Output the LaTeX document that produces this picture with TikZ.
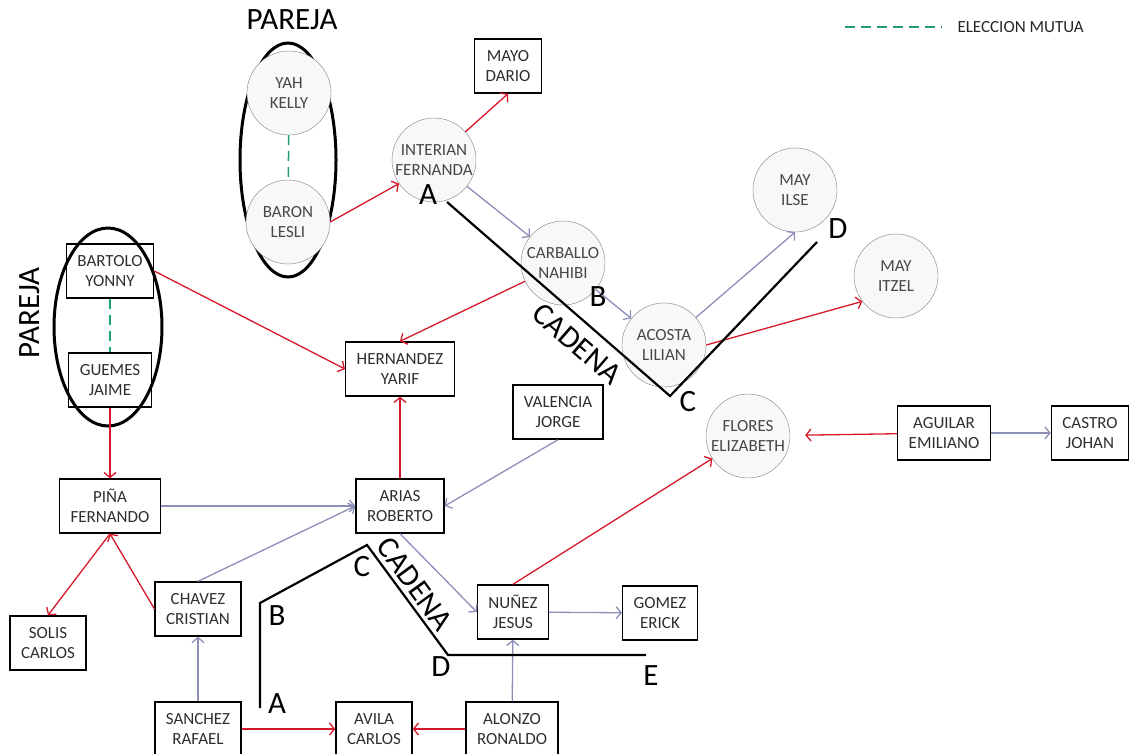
\documentclass[tikz,border=0pt]{standalone}
\usepackage{fontspec}
\setmainfont{Carlito}
\usepackage{tikz}
\usetikzlibrary{arrows,arrows.meta,shapes}
\definecolor{rojo}{HTML}{D7182A}
\definecolor{azul}{HTML}{8C8FB8}
\definecolor{verde}{HTML}{1E9C76}
\definecolor{gris}{HTML}{7F7F7F}
\definecolor{fondo}{HTML}{F8F8F8}
\tikzstyle{alumno}=[circle,draw=gris,fill=fondo,minimum size=84pt,inner sep=0pt,align=center,text=black!72,font=\fontsize{17}{20.5}\selectfont]
\tikzstyle{caja}=[rectangle,draw,line width=1.4pt,minimum height=54pt,inner xsep=11pt,align=center,text=black!82,font=\fontsize{17}{20.5}\selectfont]
\tikzstyle{pareja}=[ellipse,draw,line width=3pt,inner sep=0pt]
\tikzstyle{rechazo} = [draw=rojo,line width=1.3pt,-{Straight Barb[length=5pt,width=12pt]}]
\tikzstyle{eleccion} = [draw=azul,line width=1.3pt,-{Straight Barb[length=5pt,width=12pt]}]
\tikzstyle{mutua} = [draw=verde,line width=1.5pt,dash pattern=on 10pt off 6pt]
\tikzstyle{cadena} = [draw,line width=2.2pt]
\tikzstyle{letra}=[font=\fontsize{31}{33}\selectfont]
\tikzstyle{titulo}=[font=\fontsize{31}{33}\selectfont]

\begin{document}
\begin{tikzpicture}[x=1pt,y=-1pt]
    \useasboundingbox (0,0) rectangle (1131,753);
    % First the couples
    \node[pareja,minimum width=96pt,minimum height=234pt] (parejauno) at (288,160) {};
    \node[pareja,minimum width=108pt,minimum height=198pt] (parejados) at (108,327) {};
    \node[titulo] (tituno) at (292,20) {PAREJA};
    \node[titulo,rotate=90] (titdos) at (30,313) {PAREJA};
    % Circles
    \foreach \pos/\name/\txt in {{(289,93)/yah/YAH\\KELLY}, {(288,222)/baron/BARON\\LESLI},
        {(434,160)/interian/INTERIAN\\FERNANDA}, {(563,263)/carballo/CARBALLO\\NAHIBI},
        {(664,345)/acosta/ACOSTA\\LILIAN}, {(795,190)/mayilse/MAY\\ILSE},
        {(896,276)/mayitzel/MAY\\ITZEL}, {(748,436)/flores/FLORES\\ELIZABETH}}
       \node[alumno] (\name) at \pos {\txt};
    % Boxes
    \foreach \pos/\name/\txt in {{(508,66)/mayo/MAYO\\DARIO}, {(110,271)/bartolo/BARTOLO\\YONNY},
        {(110,380)/guemes/GUEMES\\JAIME}, {(400,369)/hernandez/HERNANDEZ\\YARIF},
        {(558,412)/valencia/VALENCIA\\JORGE}, {(400,506)/arias/ARIAS\\ROBERTO},
        {(110,506)/pina/PIÑA\\FERNANDO}, {(198,609)/chavez/CHAVEZ\\CRISTIAN},
        {(48,643)/solis/SOLIS\\CARLOS}, {(198,729)/sanchez/SANCHEZ\\RAFAEL},
        {(374,729)/avila/AVILA\\CARLOS}, {(512,729)/alonzo/ALONZO\\RONALDO},
        {(513,612)/nunez/NUÑEZ\\JESUS}, {(660,613)/gomez/GOMEZ\\ERICK},
        {(944,433)/aguilar/AGUILAR\\EMILIANO}, {(1090,433)/castro/CASTRO\\JOHAN}}
       \node[caja] (\name) at \pos {\txt};
    % Mutual choices
    \path[mutua] (yah) -- (baron);
    \path[mutua] (bartolo) -- (guemes);
    % Red arrows
    \foreach \source/\dest in {baron.east/interian.214, interian/mayo.south, bartolo.east/hernandez.west,
        carballo/hernandez.north, arias/hernandez, guemes/pina, pina.south/solis.north,
        chavez.west/pina.south, acosta.east/mayitzel.217, nunez.north/flores,
        sanchez/avila, alonzo/avila}
        \path[rechazo] (\source) -- (\dest);
    \path[rechazo,shorten >=15pt] (aguilar) -- (flores);
    % Blue arrows
    \foreach \source/\dest in {interian/carballo, carballo/acosta, acosta/mayilse.south,
        valencia.south/arias.east, pina/arias, chavez.north/arias.west, arias.south/nunez.west,
        nunez/gomez, sanchez/chavez, alonzo/nunez, aguilar/castro}
        \path[eleccion] (\source) -- (\dest);
    % Chains
    \path[cadena] (447,202) -- (670,396) -- (817,242);
    \node[titulo,rotate=-41] (cadenauno) at (577,344) {CADENA};
    \foreach \pos/\name in {(428,195)/A, (598,297)/B, (688,402)/C, (838,229)/D}
        \node[letra] (arriba\name) at \pos {\name};
    \path[cadena] (260,708) -- (260,603) -- (367,545) -- (448,655) -- (646,655);
    \node[titulo,rotate=-54] (cadenados) at (415,584) {CADENA};
    \foreach \pos/\name in {(277,704)/A, (277,616)/B, (362,567)/C, (441,667)/D, (651,676)/E}
        \node[letra] (abajo\name) at \pos {\name};
    % Legend
    \coordinate (leyini) at (845,27);
    \coordinate (leyfin) at (942,27);
    \path[mutua] (leyini) -- (leyfin);
    \node[anchor=west,font=\fontsize{17}{18}\selectfont,text=black!85] (leytxt) at (954,27) {ELECCION MUTUA};
\end{tikzpicture}
\end{document}
